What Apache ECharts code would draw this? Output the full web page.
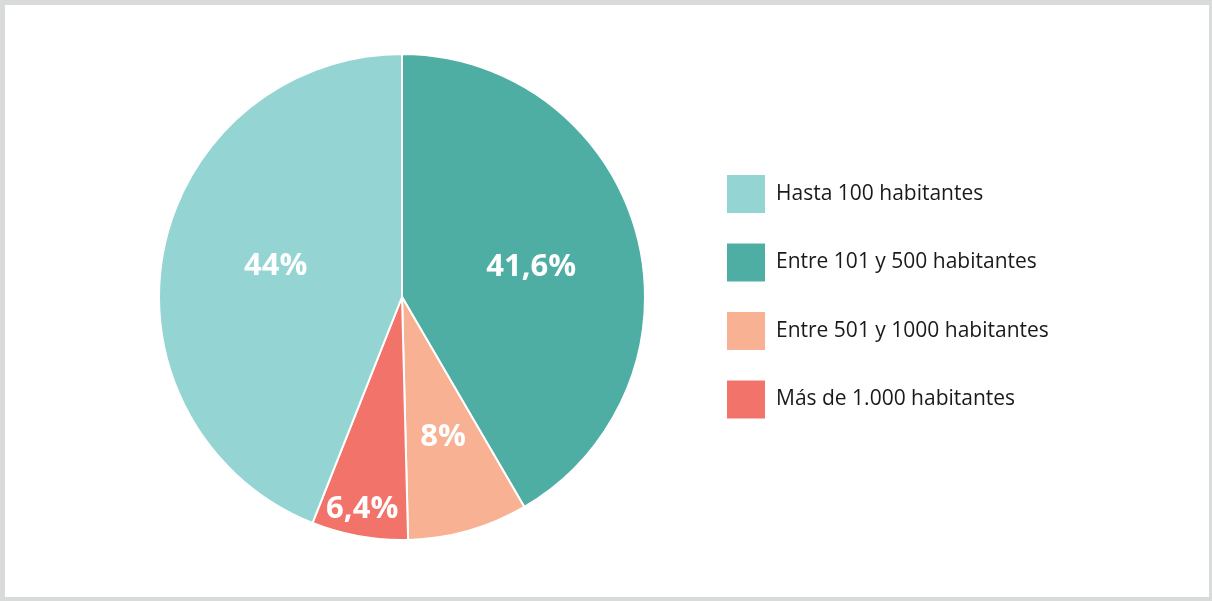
<!DOCTYPE html>
<html>
<head>
<meta charset="utf-8">
<script src="https://cdn.jsdelivr.net/npm/echarts@6/dist/echarts.min.js"></script>
<style>
  html, body { margin: 0; padding: 0; background: #ffffff; }
  #chart { position: absolute; left: 0; top: 0; width: 1212px; height: 601px; }
  #frame {
    position: absolute; left: 0; top: 0; width: 1212px; height: 601px;
    box-sizing: border-box; pointer-events: none;
    border-style: solid; border-color: #d9dbda;
    border-width: 5px 3px 4px 5px;
  }
</style>
</head>
<body>
<div id="chart"></div>
<div id="frame"></div>
<script>
// Population bands, in the order the slices run clockwise from 12 o'clock
const sliceNames = [
  'Entre 101 y 500 habitantes',
  'Entre 501 y 1000 habitantes',
  'Más de 1.000 habitantes',
  'Hasta 100 habitantes'
];
const sliceValues = [41.6, 8, 6.4, 44];
const sliceColors = ['#4faea4', '#f8b192', '#f27369', '#94d5d4'];

// Legend reads top to bottom in this order
const legendOrder = [
  'Hasta 100 habitantes',
  'Entre 101 y 500 habitantes',
  'Entre 501 y 1000 habitantes',
  'Más de 1.000 habitantes'
];

// Nudges for the percentage labels away from the mid-radius default
const labelShift = [[9, 3], [7, 20], [-18, 90], [-4, -7]];

const fmtPct = v => String(v).replace('.', ',') + '%';

const chart = echarts.init(document.getElementById('chart'), null, { renderer: 'canvas' });
chart.setOption({
  animation: false,
  backgroundColor: '#ffffff',
  legend: {
    orient: 'vertical',
    left: 725,
    top: 173,
    padding: 0,
    itemWidth: 40,
    itemHeight: 40,
    itemGap: 26.5,
    icon: 'rect',
    data: legendOrder,
    selectedMode: false,
    textStyle: {
      fontFamily: '"Open Sans", sans-serif',
      fontSize: 21,
      color: '#1a1a1a',
      padding: [0, 0, 0, 5]
    }
  },
  series: [{
    type: 'pie',
    center: [402, 297],
    radius: 243,
    startAngle: 90,
    clockwise: true,
    silent: true,
    itemStyle: { borderColor: '#ffffff', borderWidth: 2 },
    label: {
      show: true,
      position: 'inside',
      formatter: p => fmtPct(p.value),
      color: '#ffffff',
      fontFamily: '"Open Sans", sans-serif',
      fontWeight: 'bold',
      fontSize: 31
    },
    labelLine: { show: false },
    labelLayout: p => ({ dx: labelShift[p.dataIndex][0], dy: labelShift[p.dataIndex][1] }),
    data: sliceNames.map((n, i) => ({
      name: n,
      value: sliceValues[i],
      itemStyle: { color: sliceColors[i] }
    }))
  }]
});
</script>
</body>
</html>
